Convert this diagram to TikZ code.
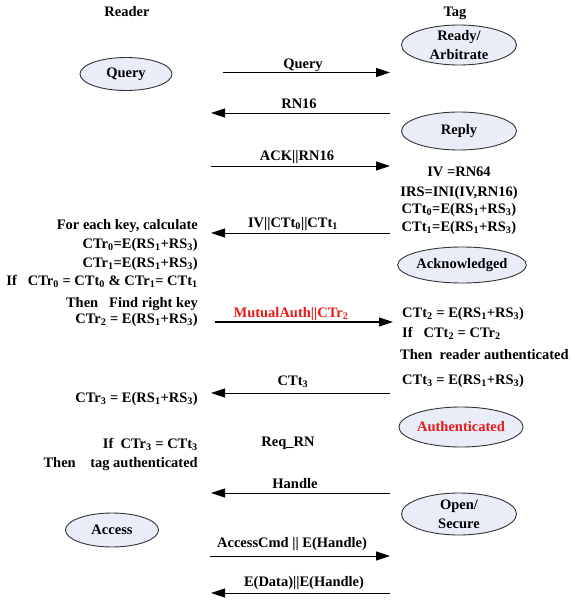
\documentclass[tikz,border=0pt]{standalone}
\usepackage{fontspec}
\setmainfont{Liberation Serif}
\usetikzlibrary{shapes.geometric,arrows.meta}
\definecolor{statefill}{RGB}{232,237,248}
\definecolor{authred}{RGB}{236,24,24}
\newcommand\lo[1]{\textsubscript{#1}}
\begin{document}
\begin{tikzpicture}[x=1pt,y=-1pt,
  font=\fontsize{14.5}{19}\selectfont\bfseries,
  state/.style={ellipse, draw=black!80, line width=0.9pt, fill=statefill, inner sep=0pt, align=center},
  twoline/.style={inner ysep=-5pt},
  msg/.style={line width=0.8pt, -{Triangle[length=14pt,width=9pt]}},
  ct/.style={inner sep=0pt, anchor=base},
  lt/.style={inner sep=0pt, anchor=base east},
  rt/.style={inner sep=0pt, anchor=base west}]
\useasboundingbox (0,0) rectangle (575,602);

% headers
\node[ct] (reader) at (127,17) {Reader};
\node[ct] (tag) at (455,17) {Tag};

% states
\node[state, twoline, minimum width=115, minimum height=40] (ready) at (459,45) {Ready/\\Arbitrate};
\node[state, minimum width=92, minimum height=33] (query) at (126,74) {Query};
\node[state, minimum width=115, minimum height=38] (reply) at (459,131) {Reply};
\node[state, minimum width=121, minimum height=36] (ack) at (462,265) {Acknowledged};
\node[state, minimum width=119, minimum height=40, text=authred] (auth) at (461,427) {Authenticated};
\node[state, twoline, minimum width=115, minimum height=42] (open) at (459,514) {Open/\\Secure};
\node[state, minimum width=93, minimum height=34] (access) at (112,530) {Access};

% message end points
\coordinate (m1a) at (223,72.5);  \coordinate (m1b) at (390,72.5);
\coordinate (m2a) at (390,113);   \coordinate (m2b) at (211,113);
\coordinate (m3a) at (211,166);   \coordinate (m3b) at (390,166);
\coordinate (m4a) at (390,233);   \coordinate (m4b) at (211,233);
\coordinate (m5a) at (215,322);   \coordinate (m5b) at (393,322);
\coordinate (m6a) at (390,393);   \coordinate (m6b) at (211,393);
\coordinate (m7a) at (390,493);   \coordinate (m7b) at (211,493);
\coordinate (m8a) at (210,556);   \coordinate (m8b) at (390,556);
\coordinate (m9a) at (390,593);   \coordinate (m9b) at (211,593);

\draw[msg] (m1a) -- (m1b);
\draw[msg] (m2a) -- (m2b);
\draw[msg] (m3a) -- (m3b);
\draw[msg] (m4a) -- (m4b);
\draw[msg, line width=1.1pt] (m5a) -- (m5b);
\draw[msg] (m6a) -- (m6b);
\draw[msg] (m7a) -- (m7b);
\draw[msg] (m8a) -- (m8b);
\draw[msg] (m9a) -- (m9b);

% message labels
\node[ct] (l1) at (303,68) {Query};
\node[ct] (l2) at (299,108) {RN16};
\node[ct] (l3) at (297,160) {ACK||RN16};
\node[ct] (l4) at (293,227) {IV||CTt\lo{0}||CTt\lo{1}};
\node[ct, text=authred] (l5) at (291,317) {MutualAuth||CTr\lo{2}};
\node[ct] (l6) at (293,385.5) {CTt\lo{3}};
\node[ct] (l7) at (288,446) {Req\_RN};
\node[ct] (l8) at (295,488) {Handle};
\node[ct] (l9) at (292,547) {AccessCmd || E(Handle)};
\node[ct] (l10) at (304,586) {E(Data)||E(Handle)};

% reader side computations
\node[lt] (r1) at (198,229) {For each key, calculate};
\node[lt] (r2) at (198,248) {CTr\lo{0}=E(RS\lo{1}+RS\lo{3})};
\node[lt] (r3) at (198,267) {CTr\lo{1}=E(RS\lo{1}+RS\lo{3})};
\node[lt] (r4) at (198,285) {If\ \ \ CTr\lo{0} = CTt\lo{0} \& CTr\lo{1}= CTt\lo{1}};
\node[lt] (r5) at (198,307) {Then\ \ \ Find right key};
\node[lt] (r6) at (198,323) {CTr\lo{2} = E(RS\lo{1}+RS\lo{3})};
\node[lt] (r7) at (198,402) {CTr\lo{3} = E(RS\lo{1}+RS\lo{3})};
\node[lt] (r8) at (198,448) {If\ \ CTr\lo{3} = CTt\lo{3}};
\node[lt] (r9) at (198,467) {Then\ \ \ \ tag authenticated};

% tag side computations
\node[ct] (t1) at (459,176) {IV =RN64};
\node[ct] (t2) at (459,196) {IRS=INI(IV,RN16)};
\node[ct] (t3) at (459,213) {CTt\lo{0}=E(RS\lo{1}+RS\lo{3})};
\node[ct] (t4) at (459,231) {CTt\lo{1}=E(RS\lo{1}+RS\lo{3})};
\node[rt] (t5) at (402,317) {CTt\lo{2} = E(RS\lo{1}+RS\lo{3})};
\node[rt] (t6) at (402,337) {If\ \ \ CTt\lo{2} = CTr\lo{2}};
\node[rt] (t7) at (400,359) {Then\ \ reader authenticated};
\node[rt] (t8) at (402,384) {CTt\lo{3} = E(RS\lo{1}+RS\lo{3})};
\end{tikzpicture}
\end{document}
